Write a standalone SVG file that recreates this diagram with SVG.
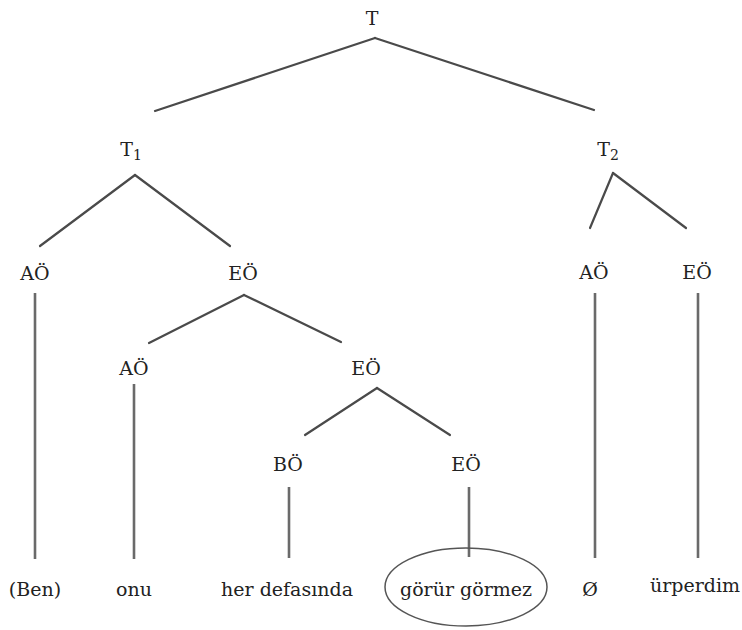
<svg xmlns="http://www.w3.org/2000/svg" width="742" height="630" viewBox="0 0 742 630">
<style>
.lbl{font-family:"DejaVu Serif","Liberation Serif",serif;font-size:19px;fill:#222;text-anchor:middle}
.sub{font-size:14px}
.e{stroke:#4a4a4a;stroke-width:2.2;fill:none;stroke-linecap:round}
.v{stroke:#6a6a6a;stroke-width:2.6;fill:none}
</style>
<rect width="742" height="630" fill="#fff"/>
<g id="connectors">
<line class="e" x1="375" y1="38" x2="155" y2="111"/>
<line class="e" x1="375" y1="38" x2="594" y2="110"/>
<line class="e" x1="135" y1="175" x2="40" y2="246"/>
<line class="e" x1="135" y1="175" x2="230" y2="246"/>
<line class="e" x1="244" y1="295" x2="149" y2="343"/>
<line class="e" x1="244" y1="295" x2="341" y2="342"/>
<line class="e" x1="377" y1="388" x2="305" y2="435"/>
<line class="e" x1="377" y1="388" x2="450" y2="435"/>
<line class="e" x1="613" y1="173" x2="590" y2="228"/>
<line class="e" x1="613" y1="173" x2="686" y2="228"/>
<line class="v" x1="35" y1="293" x2="35" y2="559"/>
<line class="v" x1="134" y1="384" x2="134" y2="559"/>
<line class="v" x1="289" y1="487" x2="289" y2="558"/>
<line class="v" x1="469" y1="487" x2="469" y2="557"/>
<line class="v" x1="595" y1="293" x2="595" y2="558"/>
<line class="v" x1="698" y1="293" x2="698" y2="558"/>
</g>
<g id="T"><text class="lbl" x="372" y="25">T</text></g>
<g id="T1"><text class="lbl" x="131" y="156">T<tspan class="sub" dy="4">1</tspan></text></g>
<g id="T2"><text class="lbl" x="608" y="156">T<tspan class="sub" dy="4">2</tspan></text></g>
<g id="AO1"><text class="lbl" x="35" y="280">AÖ</text></g>
<g id="EO1"><text class="lbl" x="243" y="280">EÖ</text></g>
<g id="AO2"><text class="lbl" x="134" y="375">AÖ</text></g>
<g id="EO2"><text class="lbl" x="366" y="375">EÖ</text></g>
<g id="BO"><text class="lbl" x="288" y="471">BÖ</text></g>
<g id="EO3"><text class="lbl" x="466" y="471">EÖ</text></g>
<g id="AO3"><text class="lbl" x="594" y="279">AÖ</text></g>
<g id="EO4"><text class="lbl" x="697" y="279">EÖ</text></g>
<g id="w-ben"><text class="lbl" x="35" y="596">(Ben)</text></g>
<g id="w-onu"><text class="lbl" x="134" y="596">onu</text></g>
<g id="w-her"><text class="lbl" x="287" y="596">her defasında</text></g>
<g id="w-gorur">
<ellipse cx="466" cy="587" rx="81" ry="39" fill="none" stroke="#555" stroke-width="1.5"/>
<text class="lbl" x="466" y="596">görür görmez</text>
</g>
<g id="w-null"><text class="lbl" x="590" y="596">Ø</text></g>
<g id="w-urperdim"><text class="lbl" x="695" y="592">ürperdim</text></g>
</svg>
